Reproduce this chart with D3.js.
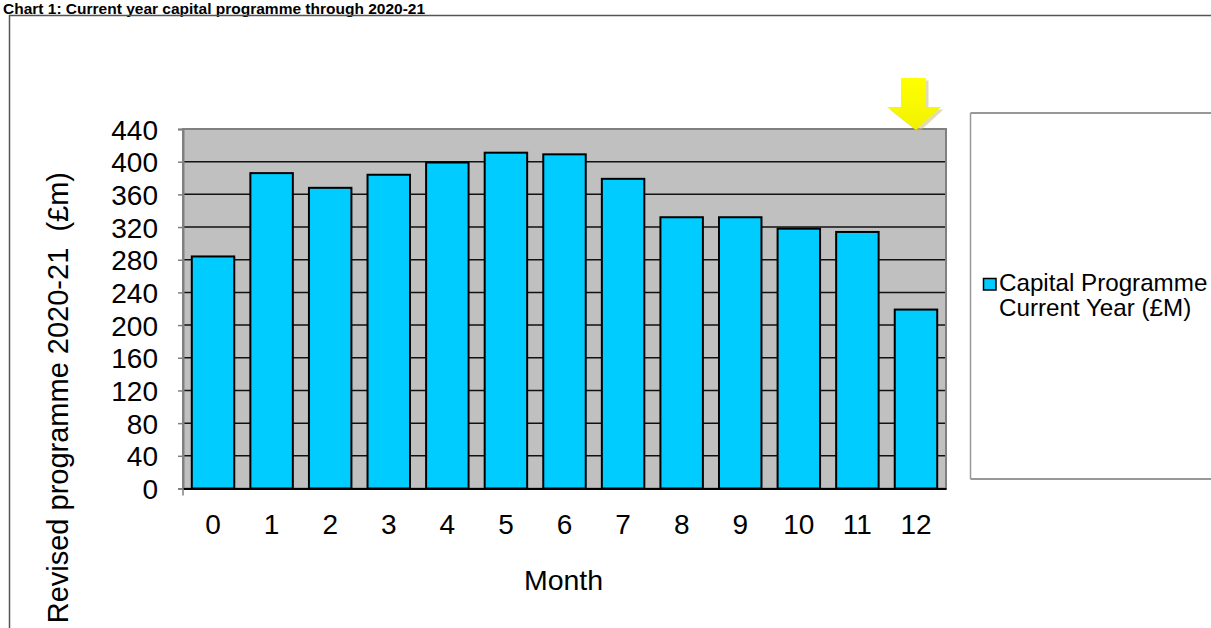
<!DOCTYPE html>
<html>
<head>
<meta charset="utf-8">
<script src="https://cdn.jsdelivr.net/npm/d3@7"></script>
<style>
  html, body { margin: 0; padding: 0; background: #fff; overflow: hidden; }
  svg { display: block; font-family: "Liberation Sans", Arial, sans-serif; }
  text { white-space: pre; }
</style>
</head>
<body>
<svg id="chart" width="1211" height="628"></svg>
<script>
// ---- data ----
const months = ["0","1","2","3","4","5","6","7","8","9","10","11","12"];
const capitalProgramme = [284, 386, 368, 384, 399, 411, 409, 379, 332, 332, 318, 314, 219];
const yTicks = [0, 40, 80, 120, 160, 200, 240, 280, 320, 360, 400, 440];
const titleText = "Chart 1: Current year capital programme through 2020-21";
const xTitle = "Month";
const yTitle = "Revised programme 2020-21  (£m)";
const legendLines = ["Capital Programme", "Current Year (£M)"];

// ---- layout ----
const W = 1211, H = 628;
const plot = { left: 183, right: 946, top: 129, bottom: 488.5 };
const svg = d3.select("#chart");

// title
svg.append("text")
  .attr("x", 3).attr("y", 14)
  .attr("font-size", 15.5).attr("font-weight", "bold")
  .attr("fill", "#000")
  .text(titleText);

// outer frame
svg.append("path")
  .attr("d", `M9.5,${H + 5} L9.5,15.5 L${W + 5},15.5`)
  .attr("fill", "none").attr("stroke", "#555").attr("stroke-width", 1.5);

// scales
const x = d3.scaleBand().domain(months)
  .range([plot.left, plot.right])
  .paddingInner(0.275).paddingOuter(0.15);
const y = d3.scaleLinear().domain([0, 440]).range([plot.bottom, plot.top]);

// plot background
svg.append("rect")
  .attr("x", plot.left).attr("y", plot.top)
  .attr("width", plot.right - plot.left).attr("height", plot.bottom - plot.top)
  .attr("fill", "#c0c0c0");

// gridlines
svg.append("g").selectAll("line")
  .data(yTicks.filter(v => v > 0 && v < 440))
  .join("line")
  .attr("x1", plot.left).attr("x2", plot.right)
  .attr("y1", d => y(d)).attr("y2", d => y(d))
  .attr("stroke", "#111").attr("stroke-width", 1.5);

// plot border
svg.append("rect")
  .attr("x", plot.left).attr("y", plot.top)
  .attr("width", plot.right - plot.left).attr("height", plot.bottom - plot.top)
  .attr("fill", "none").attr("stroke", "#808080").attr("stroke-width", 2);

// bars
svg.append("g").selectAll("rect")
  .data(capitalProgramme)
  .join("rect")
  .attr("x", (d, i) => x(months[i]))
  .attr("width", x.bandwidth())
  .attr("y", d => y(d))
  .attr("height", d => y(0) - y(d))
  .attr("fill", "#00ccff")
  .attr("stroke", "#000").attr("stroke-width", 2);

// y axis
const yAxis = svg.append("g")
  .attr("transform", `translate(${plot.left},0)`)
  .call(d3.axisLeft(y).tickValues(yTicks).tickSize(5).tickPadding(20));
yAxis.select(".domain").attr("stroke", "#808080").attr("stroke-width", 2);
yAxis.selectAll(".tick line").attr("stroke", "#808080").attr("stroke-width", 1.5);
yAxis.selectAll(".tick text")
  .attr("font-size", 28).attr("fill", "#000")
  .attr("font-family", "'Liberation Sans', Arial, sans-serif")
  .attr("dy", "0.36em");

// x axis
const xAxis = svg.append("g")
  .attr("transform", `translate(0,${plot.bottom})`)
  .call(d3.axisBottom(x).tickSize(0).tickPadding(0));
xAxis.select(".domain").attr("stroke", "#000").attr("stroke-width", 2);
xAxis.selectAll(".tick text")
  .attr("font-size", 28).attr("fill", "#000")
  .attr("font-family", "'Liberation Sans', Arial, sans-serif")
  .attr("y", 533.5 - plot.bottom).attr("dy", 0);
// small tick at left end of category axis
svg.append("line")
  .attr("x1", plot.left).attr("x2", plot.left)
  .attr("y1", plot.bottom).attr("y2", plot.bottom + 7)
  .attr("stroke", "#808080").attr("stroke-width", 1.5);

// axis titles
svg.append("text")
  .attr("x", (plot.left + plot.right) / 2 - 1).attr("y", 589.5)
  .attr("text-anchor", "middle")
  .attr("font-size", 28.5).attr("fill", "#000")
  .text(xTitle);

svg.append("text")
  .attr("transform", `translate(68,172) rotate(-90)`)
  .attr("text-anchor", "end")
  .attr("font-size", 29).attr("fill", "#000")
  .attr("xml:space", "preserve")
  .text(yTitle);

// highlight arrow above month 12
const ax = x(months[12]) + x.bandwidth() / 2;
const arrowPts = [
  [ax - 15, 78], [ax + 10, 78], [ax + 10, 107], [ax + 25, 107],
  [ax, 130], [ax - 29, 107], [ax - 15, 107]
];
const defs = svg.append("defs");
const grad = defs.append("linearGradient").attr("id", "arrowGrad")
  .attr("x1", 0).attr("y1", 0).attr("x2", 0).attr("y2", 1);
grad.append("stop").attr("offset", "0%").attr("stop-color", "#ffff00");
grad.append("stop").attr("offset", "100%").attr("stop-color", "#f2f200");
svg.append("polygon")
  .attr("points", arrowPts.map(p => [p[0] + 2.5, p[1] + 2.5].join(",")).join(" "))
  .attr("fill", "#c9c07a").attr("opacity", 0.55);
svg.append("polygon")
  .attr("points", arrowPts.map(p => p.join(",")).join(" "))
  .attr("fill", "url(#arrowGrad)");

// legend box
const lg = { left: 970.5, top: 113, bottom: 479 };
svg.append("line")
  .attr("x1", lg.left).attr("x2", W + 5).attr("y1", lg.top).attr("y2", lg.top)
  .attr("stroke", "#333").attr("stroke-width", 1.2);
svg.append("line")
  .attr("x1", lg.left).attr("x2", W + 5).attr("y1", lg.bottom).attr("y2", lg.bottom)
  .attr("stroke", "#333").attr("stroke-width", 1.2);
svg.append("line")
  .attr("x1", lg.left).attr("x2", lg.left).attr("y1", lg.top).attr("y2", lg.bottom)
  .attr("stroke", "#999").attr("stroke-width", 1.5);

svg.append("rect")
  .attr("x", 983.5).attr("y", 278.5).attr("width", 12.5).attr("height", 11.5)
  .attr("fill", "#00ccff").attr("stroke", "#000").attr("stroke-width", 1.5);
svg.append("text")
  .attr("x", 999).attr("y", 291)
  .attr("font-size", 24.2).attr("fill", "#000")
  .selectAll("tspan")
  .data(legendLines)
  .join("tspan")
  .attr("x", 999)
  .attr("dy", (d, i) => i === 0 ? 0 : 24.5)
  .text(d => d);
</script>
</body>
</html>
